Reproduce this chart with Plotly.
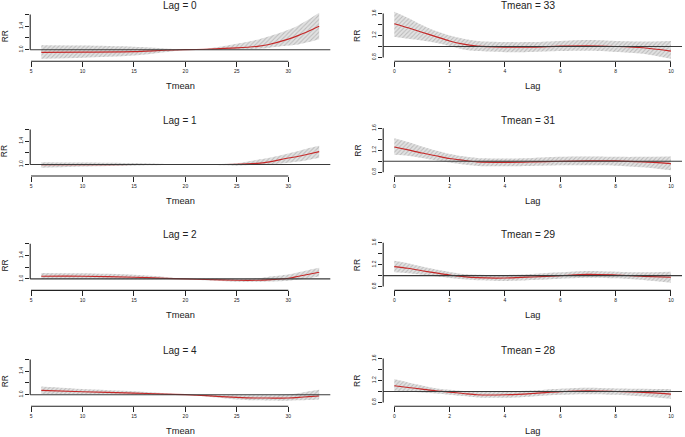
import plotly.graph_objects as go

W, H = 685, 437
FONT = "Liberation Sans, Arial, sans-serif"

# ---------------- data ----------------
tmean_grid = [6, 10, 15, 18, 20, 22, 25, 27, 28, 30, 31, 32, 33]
lag_grid = [0, 0.5, 1, 1.5, 2, 2.5, 3, 4, 5, 6, 7, 8, 9, 10]

left_titles = ["Lag = 0", "Lag = 1", "Lag = 2", "Lag = 4"]
right_titles = ["33", "31", "29", "28"]

rr_lag0 = [0.955, 0.958, 0.966, 0.99, 1.0, 1.008, 1.03, 1.058, 1.085, 1.18, 1.245, 1.32, 1.40]
up_lag0 = [1.074, 1.07, 1.05, 1.02, 1.0, 1.015, 1.10, 1.17, 1.22, 1.34, 1.42, 1.52, 1.63]
lo_lag0 = [0.846, 0.863, 0.90, 0.955, 1.0, 0.995, 1.006, 1.017, 1.03, 1.07, 1.09, 1.13, 1.18]

rr_lag1 = [0.997, 0.998, 1.0, 1.0, 1.0, 1.0, 1.005, 1.02, 1.04, 1.11, 1.14, 1.18, 1.22]
up_lag1 = [1.04, 1.035, 1.025, 1.01, 1.0, 1.005, 1.02, 1.08, 1.11, 1.19, 1.23, 1.28, 1.32]
lo_lag1 = [0.943, 0.966, 0.98, 0.99, 1.0, 0.99, 0.98, 0.995, 1.0, 1.03, 1.05, 1.08, 1.11]

rr_lag2 = [1.046, 1.046, 1.028, 1.01, 1.0, 0.99, 0.977, 0.977, 0.983, 1.011, 1.046, 1.08, 1.114]
up_lag2 = [1.10, 1.095, 1.07, 1.034, 1.0, 1.006, 1.0, 1.01, 1.034, 1.074, 1.114, 1.154, 1.19]
lo_lag2 = [1.0, 1.0, 0.994, 0.994, 1.0, 0.977, 0.95, 0.95, 0.954, 0.97, 0.989, 1.011, 1.04]

rr_lag4 = [1.074, 1.05, 1.028, 1.011, 1.0, 0.983, 0.954, 0.943, 0.943, 0.943, 0.954, 0.966, 0.977]
up_lag4 = [1.14, 1.097, 1.057, 1.023, 1.0, 0.994, 0.989, 0.989, 0.992, 1.0, 1.023, 1.057, 1.085]
lo_lag4 = [1.011, 1.006, 1.0, 1.0, 1.0, 0.97, 0.92, 0.903, 0.90, 0.897, 0.903, 0.91, 0.92]

rr_t33 = [1.415, 1.34, 1.26, 1.18, 1.10, 1.043, 1.006, 0.988, 0.988, 1.006, 1.012, 1.0, 0.976, 0.915]
up_t33 = [1.634, 1.52, 1.39, 1.28, 1.20, 1.14, 1.10, 1.08, 1.08, 1.10, 1.116, 1.10, 1.09, 1.10]
lo_t33 = [1.177, 1.14, 1.11, 1.067, 1.006, 0.945, 0.915, 0.896, 0.90, 0.915, 0.92, 0.90, 0.866, 0.775]

rr_t31 = [1.26, 1.207, 1.15, 1.10, 1.05, 1.018, 0.988, 0.98, 0.988, 1.0, 1.006, 1.006, 0.988, 0.957]
up_t31 = [1.42, 1.35, 1.27, 1.195, 1.134, 1.09, 1.06, 1.05, 1.06, 1.08, 1.085, 1.08, 1.08, 1.085]
lo_t31 = [1.12, 1.10, 1.06, 1.018, 0.976, 0.94, 0.915, 0.91, 0.915, 0.927, 0.927, 0.92, 0.89, 0.835]

rr_t29 = [1.165, 1.134, 1.09, 1.05, 1.012, 0.982, 0.963, 0.957, 0.976, 1.0, 1.024, 1.012, 0.988, 0.97]
up_t29 = [1.27, 1.226, 1.165, 1.11, 1.067, 1.03, 1.018, 1.012, 1.03, 1.06, 1.085, 1.073, 1.06, 1.073]
lo_t29 = [1.06, 1.043, 1.018, 0.988, 0.957, 0.933, 0.915, 0.902, 0.92, 0.945, 0.963, 0.951, 0.92, 0.872]

rr_t28 = [1.104, 1.073, 1.043, 1.012, 0.988, 0.963, 0.94, 0.94, 0.963, 0.994, 1.012, 1.0, 0.982, 0.951]
up_t28 = [1.226, 1.165, 1.11, 1.06, 1.03, 1.006, 0.994, 1.0, 1.018, 1.05, 1.067, 1.055, 1.05, 1.043]
lo_t28 = [1.012, 1.0, 0.982, 0.963, 0.94, 0.915, 0.89, 0.884, 0.91, 0.94, 0.951, 0.94, 0.91, 0.866]

left_xticks = [5, 10, 15, 20, 25, 30]
right_xticks = [0, 2, 4, 6, 8, 10]
left_yticks = [1.0, 1.2, 1.4, 1.6]
left_ytext = ["1.0", "", "1.4", ""]
right_yticks = [0.8, 1.0, 1.2, 1.4, 1.6]
right_ytext = ["0.8", "", "1.2", "", "1.6"]

left_series = [(rr_lag0, lo_lag0, up_lag0), (rr_lag1, lo_lag1, up_lag1),
               (rr_lag2, lo_lag2, up_lag2), (rr_lag4, lo_lag4, up_lag4)]
right_series = [(rr_t33, lo_t33, up_t33), (rr_t31, lo_t31, up_t31),
                (rr_t29, lo_t29, up_t29), (rr_t28, lo_t28, up_t28)]

# ---------------- layout geometry (pixels) ----------------
row_bottom_px = [61.2, 176.0, 290.4, 406.2]
LEFT = dict(xpx=(30.2, 330.3), xrange=(4.92, 34.08), yrange=(0.8034, 1.66), ppu=58.5)
RIGHT = dict(xpx=(383.2, 682.0), xrange=(-0.4, 10.4), yrange=(0.7308, 1.66), ppu=54.8)

fig = go.Figure()
layout = {}
shapes = []
annotations = []


def px_x(p):
    return p / W


def px_y(p):
    return 1 - p / H


def add_panel(idx, x, series, geo, bottom, xticks, yticks, ytext, title, title_x, xlabel):
    rr, lo, up = series
    sfx = "" if idx == 1 else str(idx)
    xa, ya = "x" + sfx, "y" + sfx
    height = (geo["yrange"][1] - geo["yrange"][0]) * geo["ppu"]
    top = bottom - height
    tickfont = dict(family=FONT, size=5, color="#222")
    layout["xaxis" + sfx] = dict(
        domain=[px_x(geo["xpx"][0]), px_x(geo["xpx"][1])], range=list(geo["xrange"]),
        anchor=ya, tickvals=xticks, ticks="outside", ticklen=4.5, tickwidth=1,
        tickcolor="#222", tickfont=tickfont, showgrid=False, zeroline=False,
        showline=False, fixedrange=True, ticklabeloverflow="allow")
    layout["yaxis" + sfx] = dict(
        domain=[px_y(bottom), px_y(top)], range=list(geo["yrange"]),
        anchor=xa, tickvals=yticks, ticktext=ytext, ticks="outside", ticklen=4.5,
        tickwidth=1, tickcolor="#222", tickfont=tickfont, tickangle=-90,
        showgrid=False, zeroline=False, showline=False, fixedrange=True,
        ticklabeloverflow="allow")
    fig.add_trace(go.Scatter(x=x, y=lo, xaxis=xa, yaxis=ya, mode="lines",
                             line=dict(width=0, shape="spline", smoothing=0.8),
                             hoverinfo="skip", showlegend=False))
    fig.add_trace(go.Scatter(x=x, y=up, xaxis=xa, yaxis=ya, mode="lines",
                             line=dict(width=0, shape="spline", smoothing=0.8),
                             fill="tonexty", fillcolor="rgba(226,226,226,1)",
                             fillpattern=dict(shape="/", bgcolor="rgba(226,226,226,1)",
                                              fgcolor="rgba(150,150,150,1)", size=3,
                                              solidity=0.35),
                             hoverinfo="skip", showlegend=False))
    fig.add_trace(go.Scatter(x=x, y=rr, xaxis=xa, yaxis=ya, mode="lines",
                             line=dict(color="#c62828", width=1.15, shape="spline", smoothing=0.8),
                             hoverinfo="skip", showlegend=False))
    # reference line RR = 1
    shapes.append(dict(type="line", xref=xa + " domain", yref=ya, x0=0, x1=1, y0=1, y1=1,
                       line=dict(color="#3a3a3a", width=1.1), layer="above"))
    # R-style axis lines spanning first to last tick
    shapes.append(dict(type="line", xref=xa, yref=ya + " domain", x0=xticks[0], x1=xticks[-1],
                       y0=0, y1=0, line=dict(color="#222", width=1.1)))
    shapes.append(dict(type="line", xref=xa + " domain", yref=ya, x0=0, x1=0,
                       y0=yticks[0], y1=yticks[-1], line=dict(color="#222", width=1.1)))
    cx = (geo["xpx"][0] + geo["xpx"][1]) / 2
    annotations.append(dict(text=title, xref="paper", yref="paper", x=px_x(title_x),
                            y=px_y(bottom - 56), xanchor="center", yanchor="middle",
                            showarrow=False, font=dict(family=FONT, size=10, color="#222")))
    annotations.append(dict(text=xlabel, xref="paper", yref="paper", x=px_x(cx),
                            y=px_y(bottom + 25), xanchor="center", yanchor="middle",
                            showarrow=False, font=dict(family=FONT, size=9.3, color="#222")))
    annotations.append(dict(text="RR", xref="paper", yref="paper",
                            x=px_x(geo["xpx"][0] - 25.5), y=px_y((bottom + top) / 2 + 0.5),
                            xanchor="center", yanchor="middle", textangle=-90,
                            showarrow=False, font=dict(family=FONT, size=8.5, color="#222")))


for r in range(4):
    add_panel(2 * r + 1, tmean_grid, left_series[r], LEFT, row_bottom_px[r],
              left_xticks, left_yticks, left_ytext, left_titles[r], 180, "Tmean")
    add_panel(2 * r + 2, lag_grid, right_series[r], RIGHT, row_bottom_px[r],
              right_xticks, right_yticks, right_ytext,
              "Tmean = <span style='font-size:10.5px'>" + right_titles[r] + "</span>",
              528, "Lag")

fig.update_layout(width=W, height=H, margin=dict(l=0, r=0, t=0, b=0),
                  paper_bgcolor="white", plot_bgcolor="white",
                  shapes=shapes, annotations=annotations, showlegend=False, **layout)
fig.write_html("out.html", config={"displayModeBar": False},
               post_script="document.body.style.margin='0px';document.body.style.padding='0px';")
